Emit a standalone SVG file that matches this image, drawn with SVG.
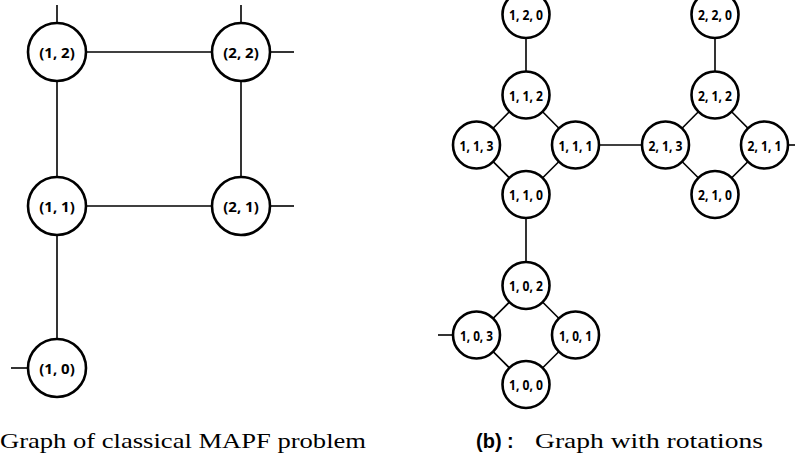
<svg xmlns="http://www.w3.org/2000/svg" width="795" height="459" viewBox="0 0 795 459">
<style>
.n{fill:#fff;stroke:#000;stroke-width:2.6}
.e{stroke:#000;stroke-width:1.6;fill:none}
.l{font-family:"Open Sans","Noto Sans",sans-serif;font-weight:bold;font-size:15px;text-anchor:middle;dominant-baseline:central}
.s{font-family:"Open Sans","Noto Sans",sans-serif;font-weight:bold;font-size:14.5px;text-anchor:middle;dominant-baseline:central}
.c{font-family:"Liberation Serif","DejaVu Serif",serif;font-size:22px}
.b{font-family:"Liberation Sans","DejaVu Sans",sans-serif;font-weight:bold;font-size:20px}
</style>
<rect width="795" height="459" fill="#fff"/>
<g id="edges">
<line class="e" x1="57" y1="5" x2="57" y2="23"/>
<line class="e" x1="241" y1="5" x2="241" y2="23"/>
<line class="e" x1="86" y1="52" x2="212" y2="52"/>
<line class="e" x1="270" y1="52" x2="294" y2="52"/>
<line class="e" x1="57" y1="81" x2="57" y2="177"/>
<line class="e" x1="241" y1="81" x2="241" y2="177"/>
<line class="e" x1="86" y1="206" x2="212" y2="206"/>
<line class="e" x1="270" y1="206" x2="294" y2="206"/>
<line class="e" x1="57" y1="235" x2="57" y2="339"/>
<line class="e" x1="11" y1="368" x2="28" y2="368"/>
<line class="e" x1="526" y1="38" x2="526" y2="72"/>
<line class="e" x1="715" y1="38" x2="715" y2="72"/>
<line class="e" x1="526" y1="95" x2="476.5" y2="145"/>
<line class="e" x1="526" y1="95" x2="575.5" y2="145"/>
<line class="e" x1="526" y1="194.5" x2="476.5" y2="145"/>
<line class="e" x1="526" y1="194.5" x2="575.5" y2="145"/>
<line class="e" x1="599" y1="145" x2="642" y2="145"/>
<line class="e" x1="715" y1="95" x2="665.5" y2="145"/>
<line class="e" x1="715" y1="95" x2="764.5" y2="145"/>
<line class="e" x1="715" y1="194.5" x2="665.5" y2="145"/>
<line class="e" x1="715" y1="194.5" x2="764.5" y2="145"/>
<line class="e" x1="788" y1="145" x2="795" y2="145"/>
<line class="e" x1="526" y1="218" x2="526" y2="262"/>
<line class="e" x1="526" y1="285.5" x2="476.5" y2="335"/>
<line class="e" x1="526" y1="285.5" x2="575.5" y2="335"/>
<line class="e" x1="526" y1="384.5" x2="476.5" y2="335"/>
<line class="e" x1="526" y1="384.5" x2="575.5" y2="335"/>
<line class="e" x1="438" y1="335" x2="453" y2="335"/>
</g>
<g id="n12"><circle class="n" cx="57" cy="52" r="29"/><text class="l" x="57" y="52">(1, 2)</text></g>
<g id="n22"><circle class="n" cx="241" cy="52" r="29"/><text class="l" x="241" y="52">(2, 2)</text></g>
<g id="n11"><circle class="n" cx="57" cy="206" r="29"/><text class="l" x="57" y="206">(1, 1)</text></g>
<g id="n21"><circle class="n" cx="241" cy="206" r="29"/><text class="l" x="241" y="206">(2, 1)</text></g>
<g id="n10"><circle class="n" cx="57" cy="368" r="29"/><text class="l" x="57" y="368">(1, 0)</text></g>
<g id="r120"><circle class="n" cx="526" cy="14.5" r="23.5"/><text class="s" x="526" y="14.5" textLength="34" lengthAdjust="spacingAndGlyphs">1, 2, 0</text></g>
<g id="r220"><circle class="n" cx="715" cy="14.5" r="23.5"/><text class="s" x="715" y="14.5" textLength="34" lengthAdjust="spacingAndGlyphs">2, 2, 0</text></g>
<g id="r112"><circle class="n" cx="526" cy="95" r="23.5"/><text class="s" x="526" y="95" textLength="34" lengthAdjust="spacingAndGlyphs">1, 1, 2</text></g>
<g id="r113"><circle class="n" cx="476.5" cy="145" r="23.5"/><text class="s" x="476.5" y="145" textLength="34" lengthAdjust="spacingAndGlyphs">1, 1, 3</text></g>
<g id="r111"><circle class="n" cx="575.5" cy="145" r="23.5"/><text class="s" x="575.5" y="145" textLength="34" lengthAdjust="spacingAndGlyphs">1, 1, 1</text></g>
<g id="r110"><circle class="n" cx="526" cy="194.5" r="23.5"/><text class="s" x="526" y="194.5" textLength="34" lengthAdjust="spacingAndGlyphs">1, 1, 0</text></g>
<g id="r212"><circle class="n" cx="715" cy="95" r="23.5"/><text class="s" x="715" y="95" textLength="34" lengthAdjust="spacingAndGlyphs">2, 1, 2</text></g>
<g id="r213"><circle class="n" cx="665.5" cy="145" r="23.5"/><text class="s" x="665.5" y="145" textLength="34" lengthAdjust="spacingAndGlyphs">2, 1, 3</text></g>
<g id="r211"><circle class="n" cx="764.5" cy="145" r="23.5"/><text class="s" x="764.5" y="145" textLength="34" lengthAdjust="spacingAndGlyphs">2, 1, 1</text></g>
<g id="r210"><circle class="n" cx="715" cy="194.5" r="23.5"/><text class="s" x="715" y="194.5" textLength="34" lengthAdjust="spacingAndGlyphs">2, 1, 0</text></g>
<g id="r102"><circle class="n" cx="526" cy="285.5" r="23.5"/><text class="s" x="526" y="285.5" textLength="34" lengthAdjust="spacingAndGlyphs">1, 0, 2</text></g>
<g id="r103"><circle class="n" cx="476.5" cy="335" r="23.5"/><text class="s" x="476.5" y="335" textLength="33" lengthAdjust="spacingAndGlyphs">1, 0, 3</text></g>
<g id="r101"><circle class="n" cx="575.5" cy="335" r="23.5"/><text class="s" x="575.5" y="335" textLength="33" lengthAdjust="spacingAndGlyphs">1, 0, 1</text></g>
<g id="r100"><circle class="n" cx="526" cy="384.5" r="23.5"/><text class="s" x="526" y="384.5" textLength="34" lengthAdjust="spacingAndGlyphs">1, 0, 0</text></g>
<g id="captions">
<text class="c" x="0" y="448" textLength="366" lengthAdjust="spacingAndGlyphs">Graph of classical MAPF problem</text>
<text class="b" x="476" y="448">(b) :</text>
<text class="c" x="535" y="448" textLength="228" lengthAdjust="spacingAndGlyphs">Graph with rotations</text>
</g>
</svg>
